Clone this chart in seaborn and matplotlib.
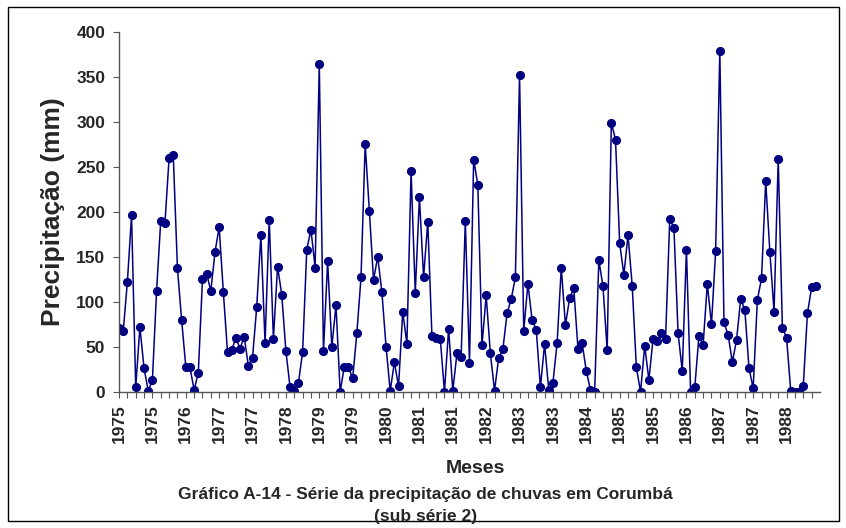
import numpy as np
import pandas as pd
import matplotlib
matplotlib.use("Agg")
import matplotlib.pyplot as plt
import seaborn as sns

# monthly rainfall (mm), Jan 1975 - Dec 1988
p1975 = [71, 67, 122, 196, 5, 72, 26, 1, 13, 112, 190, 187]
p1976 = [260, 263, 137, 80, 28, 27, 2, 21, 125, 131, 112, 155]
p1977 = [183, 111, 44, 46, 60, 48, 61, 29, 38, 94, 174, 54]
p1978 = [191, 59, 139, 108, 45, 5, 1, 10, 44, 158, 180, 138]
p1979 = [364, 45, 145, 50, 96, 0, 28, 27, 15, 65, 127, 275]
p1980 = [201, 124, 150, 111, 50, 1, 33, 6, 89, 53, 245, 110]
p1981 = [216, 127, 189, 62, 60, 59, 0, 70, 1, 43, 39, 190]
p1982 = [32, 258, 230, 52, 107, 43, 1, 38, 47, 87, 103, 127]
p1983 = [352, 68, 120, 80, 69, 5, 53, 2, 10, 54, 138, 74]
p1984 = [104, 115, 48, 54, 23, 2, 0, 146, 117, 46, 299, 280]
p1985 = [165, 130, 174, 118, 27, 0, 51, 13, 59, 56, 65, 59]
p1986 = [192, 182, 65, 23, 158, 0, 5, 62, 52, 120, 75, 156]
p1987 = [379, 77, 63, 33, 57, 103, 91, 26, 4, 102, 126, 234]
p1988 = [155, 89, 259, 71, 60, 1, 0, 0, 6, 87, 116, 118]

years = list(range(1975, 1989))
precip = (p1975 + p1976 + p1977 + p1978 + p1979 + p1980 + p1981 +
          p1982 + p1983 + p1984 + p1985 + p1986 + p1987 + p1988)

df = pd.DataFrame({
    "mes": np.arange(len(precip)),
    "ano": np.repeat(years, 12),
    "precip": precip,
})

sns.set_style("white")
plt.rcParams["font.family"] = ["Liberation Sans", "DejaVu Sans"]
plt.rcParams["font.weight"] = "bold"

fig = plt.figure(figsize=(8.46, 5.28), dpi=100)
ax = fig.add_axes([0.1407, 0.258, 0.8285, 0.682])

sns.lineplot(data=df, x="mes", y="precip", ax=ax, color="#000080",
             linewidth=1.1, marker="o", markersize=5.8,
             markeredgecolor="#000080", markerfacecolor="#000080")

ax.set_xlim(0, 168)
ax.set_ylim(0, 400)
ax.set_yticks(range(0, 401, 50))
ax.set_yticklabels([str(v) for v in range(0, 401, 50)],
                   fontsize=12.5, fontweight="bold")

lab_pos = df["mes"][::8]
ax.set_xticks(lab_pos)
ax.set_xticklabels([str(a) for a in df["ano"][::8]], rotation=90,
                   fontsize=12.5, fontweight="bold")
ax.set_xticks(df["mes"][::2], minor=True)
ax.tick_params(axis="both", which="both", direction="out", length=4,
               width=0.8, color="#555555", bottom=True, left=True)
ax.tick_params(axis="x", which="major", pad=5)
ax.tick_params(axis="y", pad=6)

for s in ["top", "right"]:
    ax.spines[s].set_visible(False)
for s in ["left", "bottom"]:
    ax.spines[s].set_color("#555555")
    ax.spines[s].set_linewidth(1.0)

ax.set_ylabel("Precipitação (mm)", fontsize=19, fontweight="bold", labelpad=8)
ax.set_xlabel("")
fig.text(0.562, 0.113, "Meses", ha="center", va="center",
         fontsize=14, fontweight="bold")
fig.text(0.503, 0.064, "Gráfico A-14 - Série da precipitação de chuvas em Corumbá",
         ha="center", va="center", fontsize=12.5, fontweight="bold")
fig.text(0.503, 0.022, "(sub série 2)", ha="center", va="center",
         fontsize=12.5, fontweight="bold")

frame = plt.Rectangle((0.0095, 0.014), 0.982, 0.973, transform=fig.transFigure,
                      fill=False, edgecolor="black", linewidth=1.0)
fig.patches.append(frame)

fig.savefig("out.png", dpi=100)
